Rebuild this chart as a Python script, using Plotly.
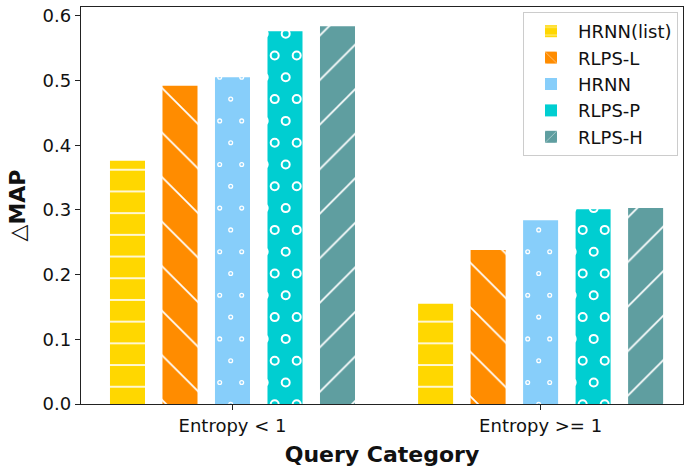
import plotly.graph_objects as go

# ---- data -------------------------------------------------------------
categories = ["Entropy < 1", "Entropy >= 1"]
series_names = ["HRNN(list)", "RLPS-L", "HRNN", "RLPS-P", "RLPS-H"]
hrnn_list = [0.376, 0.155]
rlps_l = [0.492, 0.238]
hrnn = [0.505, 0.284]
rlps_p = [0.576, 0.301]
rlps_h = [0.584, 0.303]
series_values = [hrnn_list, rlps_l, hrnn, rlps_p, rlps_h]

# ---- style ------------------------------------------------------------
colors = ["#FFD700", "#FF8C00", "#87CEFA", "#00CED1", "#5F9EA0"]
# (pattern shape, size, solidity) for the line hatches; None -> ring hatch
hatches = [("-", 21.7, 0.075), ("\\", 31.5, 0.055), None, None, ("/", 31.5, 0.055)]
# ring hatches: (marker size, line width)
rings = {2: (3.8, 1.3), 3: (8.0, 2.0)}

FW, FH = 684, 467
ML, MR, MT, MB = 81, 1, 7, 63
PW, PH = FW - ML - MR, FH - MT - MB
XR = (-0.4917, 1.4622)
YR = (0.0, 0.6136)

N = len(series_names)
BARGAP, BARGROUPGAP = 0.148, 0.333
slot = (1 - BARGAP) / N
bar_w = slot * (1 - BARGROUPGAP)


def to_px_x(x):
    return ML + (x - XR[0]) / (XR[1] - XR[0]) * PW


def to_px_y(y):
    return MT + PH - (y - YR[0]) / (YR[1] - YR[0]) * PH


def from_px_x(px):
    return XR[0] + (px - ML) / PW * (XR[1] - XR[0])


def from_px_y(py):
    return YR[0] + (MT + PH - py) / PH * (YR[1] - YR[0])


def ring_points(xc, value, radius):
    """Staggered ring lattice (fixed in figure space) clipped to one bar."""
    x0, x1 = to_px_x(xc - bar_w / 2), to_px_x(xc + bar_w / 2)
    ytop, ybot = to_px_y(value), to_px_y(0)
    dx, dy = 22.0, 21.8
    xs, ys = [], []
    for k in range(-20, 40):
        py = 142.7 + k * dy
        if py < ytop - radius or py > ybot + radius:
            continue
        xoff = 230.7 if k % 2 == 0 else 219.7
        for j in range(-40, 40):
            px = xoff + j * dx
            if x0 - radius <= px <= x1 + radius:
                xs.append(from_px_x(px))
                ys.append(from_px_y(py))
    return xs, ys


fig = go.Figure()
group_pos = list(range(len(categories)))

for i, (name, vals, col) in enumerate(zip(series_names, series_values, colors)):
    marker = dict(color=col, line=dict(width=0))
    if hatches[i] is not None:
        shape, size, sol = hatches[i]
        marker["pattern"] = dict(shape=shape, size=size, solidity=sol,
                                 fgcolor="white", fgopacity=1.0,
                                 fillmode="overlay")
    fig.add_trace(go.Bar(x=group_pos, y=vals, name=name, marker=marker))

# ring hatching for the two circle-patterned series
for i, (msize, lw) in rings.items():
    offset = (i - (N - 1) / 2) * slot
    rx, ry = [], []
    for g, v in zip(group_pos, series_values[i]):
        xs, ys = ring_points(g + offset, v, msize / 2 + lw / 2)
        rx += xs
        ry += ys
    fig.add_trace(go.Scatter(
        x=rx, y=ry, mode="markers", showlegend=False, hoverinfo="skip",
        marker=dict(symbol="circle-open", size=msize, color="white",
                    line=dict(width=lw, color="white")),
    ))

axis_common = dict(
    showline=True, linecolor="#222222", linewidth=1.3, mirror=True,
    ticks="outside", ticklen=5, tickwidth=1.3, tickcolor="#222222",
    showgrid=False, zeroline=False,
    tickfont=dict(family="DejaVu Sans", size=18, color="#111111"),
)

fig.update_layout(
    width=FW, height=FH,
    margin=dict(l=ML, r=MR, t=MT, b=MB),
    paper_bgcolor="white", plot_bgcolor="white",
    barmode="group", bargap=BARGAP, bargroupgap=BARGROUPGAP,
    font=dict(family="DejaVu Sans", color="#111111"),
    xaxis=dict(
        range=list(XR), tickvals=group_pos, ticktext=categories,
        title=dict(text="<b>Query Category</b>", standoff=14,
                   font=dict(family="DejaVu Sans", size=22, color="#111111")),
        **axis_common,
    ),
    yaxis=dict(
        range=list(YR), tickvals=[0, 0.1, 0.2, 0.3, 0.4, 0.5, 0.6],
        tickformat=".1f",
        title=dict(text="△<b>MAP</b>", standoff=10,
                   font=dict(family="DejaVu Sans", size=22, color="#111111")),
        **axis_common,
    ),
    legend=dict(
        x=0.9917, y=0.9874, xanchor="right", yanchor="top",
        bgcolor="rgba(255,255,255,0.85)", bordercolor="#cccccc", borderwidth=1,
        font=dict(family="DejaVu Sans", size=18, color="#111111"),
        tracegroupgap=0, itemwidth=44,
    ),
)

fig.write_html("out.html")
